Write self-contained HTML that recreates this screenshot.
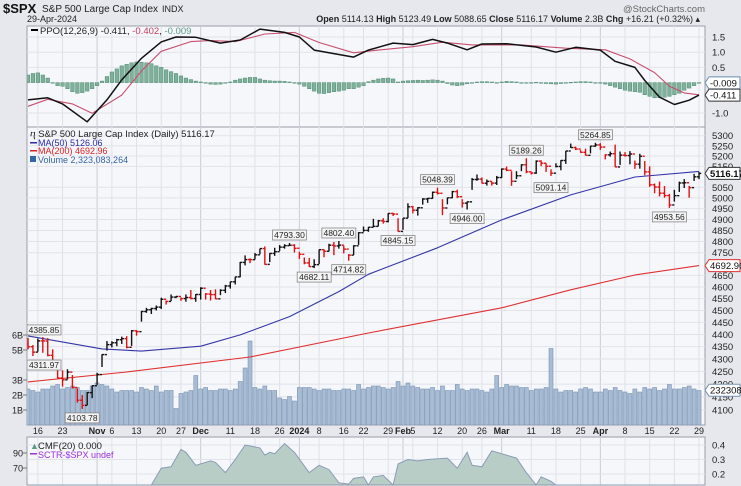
<!DOCTYPE html>
<html><head><meta charset="utf-8"><style>
html,body{margin:0;padding:0;background:#e6e8ed;overflow:hidden;width:741px;height:486px;}
svg{display:block;font-family:"Liberation Sans",sans-serif;overflow:hidden;}
</style></head><body>
<svg id="c" width="741" height="486" viewBox="0 0 741 486" xmlns="http://www.w3.org/2000/svg">
<rect x="0" y="0" width="741" height="486" fill="#e6e8ed"/>
<text x="3" y="13" font-size="13" font-weight="bold" fill="#111">$SPX</text>
<text x="42" y="12" font-size="10" fill="#222">S&amp;P 500 Large Cap Index</text>
<text x="162" y="12" font-size="9" fill="#222">INDX</text>
<text x="705" y="12" font-size="9.5" fill="#666" text-anchor="end">@StockCharts.com</text>
<text x="27" y="22" font-size="9" fill="#222">29-Apr-2024</text>
<text x="700" y="22" font-size="9" fill="#222" text-anchor="end"><tspan font-weight="bold">Open</tspan> 5114.13 <tspan font-weight="bold">High</tspan> 5123.49 <tspan font-weight="bold">Low</tspan> 5088.65 <tspan font-weight="bold">Close</tspan> 5116.17 <tspan font-weight="bold">Volume</tspan> 2.3B <tspan font-weight="bold">Chg</tspan> +16.21 (+0.32%) ▴</text>
<defs>
<clipPath id="cpPPO"><rect x="27" y="26" width="678" height="101"/></clipPath>
<clipPath id="cpMain"><rect x="27" y="127" width="678" height="298"/></clipPath>
<clipPath id="cpCMF"><rect x="27" y="437" width="678" height="48"/></clipPath>
</defs>
<rect x="27" y="26" width="678" height="101" fill="#f6f7fb" stroke="#9a9ea8"/>
<rect x="27" y="127" width="678" height="298" fill="#f6f7fb" stroke="#9a9ea8"/>
<rect x="27" y="437" width="678" height="48" fill="#f6f7fb" stroke="#9a9ea8"/>
<g id="grid"></g>
<g id="ppo" clip-path="url(#cpPPO)"></g>
<g id="vol" clip-path="url(#cpMain)"></g>
<g id="main" clip-path="url(#cpMain)"></g>
<g id="cmf" clip-path="url(#cpCMF)"></g>
<g id="axes"></g>
<g id="legends">
<rect x="31" y="29" width="7" height="2" fill="#000"/>
<text x="40" y="34" font-size="9.5" fill="#222">PPO(12,26,9) -0.411, <tspan fill="#c0405f">-0.402</tspan>, <tspan fill="#5a9a80">-0.009</tspan></text>
<text x="30" y="137" font-size="9.5" fill="#222">ⴄ S&amp;P 500 Large Cap Index (Daily) 5116.17</text>
<rect x="30" y="142" width="7" height="1.5" fill="#2b2ba8"/>
<text x="38" y="146" font-size="9" fill="#2b2ba8">MA(50) 5126.06</text>
<rect x="30" y="150" width="7" height="1.5" fill="#e02020"/>
<text x="38" y="154" font-size="9" fill="#e02020">MA(200) 4692.96</text>
<rect x="30" y="156" width="6" height="6" fill="#3465a4"/>
<text x="38" y="163" font-size="9" fill="#3465a4">Volume 2,323,083,264</text>
<text x="38" y="449" font-size="9.5" fill="#222">CMF(20) 0.000</text>
<text x="30" y="449" font-size="9" fill="#5a9a80">▲</text>
<rect x="30" y="453" width="7" height="1.5" fill="#9b30e0"/>
<text x="38" y="458" font-size="9" fill="#9b30e0">SCTR-$SPX undef</text>
</g>
</svg>
<script>
const closes=[4349.6,4327.8,4373.6,4373.2,4314.6,4278.0,4224.2,4217.0,4247.7,4186.8,4137.2,4117.4,4166.8,4193.8,
4237.9,4317.8,4358.3,4365.9,4378.4,4382.8,4347.4,4415.2,4411.6,4495.7,4502.9,4508.2,4514.0,4547.4,4538.2,4556.6,4559.3,4550.4,4554.9,4550.6,4567.8,
4594.6,4569.8,4567.2,4549.3,4585.6,4604.4,4622.4,4643.7,4707.1,4719.6,4719.2,4740.6,4768.4,4698.4,4746.8,4754.6,4774.8,4781.6,4783.4,4769.8,
4742.8,4704.8,4688.7,4697.2,4763.5,4756.5,4783.5,4780.2,4783.8,4766.0,4739.2,4780.9,4839.8,4850.4,4864.6,4868.6,4894.2,4890.9,4927.9,4924.9,4845.7,
4906.2,4958.6,4942.8,4954.2,4995.1,4997.9,5026.6,5021.8,4953.2,5000.6,5029.7,5005.6,4975.5,4981.8,5087.0,5088.8,5069.5,5078.2,5069.8,5096.3,
5137.1,5130.9,5078.7,5104.8,5157.4,5123.7,5117.9,5175.3,5165.3,5150.5,5117.1,5149.4,5178.5,5224.6,5241.5,5234.2,5218.2,5203.6,5248.5,5254.4,
5243.8,5205.8,5211.5,5147.2,5204.3,5202.4,5209.9,5160.6,5199.1,5123.4,5061.8,5051.4,5022.2,5011.1,4967.2,5010.6,5070.6,5071.6,5048.4,5099.96,5116.17];
const highs=[4385.85,4357,4383,4389,4385,4339,4276,4255,4259,4236,4183,4157,4169,4195,
4245,4319,4373,4372,4382,4391,4393,4418,4418,4498,4511,4511,4521,4554,4542,4568,4560,4555,4568,4587,4570,
4599,4574,4587,4590,4590,4609,4623,4644,4709,4738,4725,4749,4768,4778,4748,4772,4784,4788,4793.3,4788,
4754,4729,4727,4721,4764,4765,4790,4798,4802.4,4782,4744,4783,4842,4868,4866,4903,4898,4906,4929,4931,4906,
4906,4975,4963,4957,4999,5000,5030,5048.39,4994,5002,5033,5039,4994,4983,5094,5111,5097,5087,5077,5104,
5140,5149,5127,5127,5160,5189.26,5124,5179,5179,5165,5136,5165,5180,5225,5261,5246,5229,5236,5250,5264.85,
5263,5209,5222,5256,5222,5219,5224,5178,5211,5176,5150,5068,5077,5056,5019,5038,5077,5089,5057,5114,5123.49];
const lows=[4339,4311.97,4330,4325,4311,4276,4223,4190,4219,4183,4128,4103.78,4118,4145,
4197,4268,4334,4347,4352,4361,4343,4353,4395,4453,4490,4485,4500,4506,4525,4540,4552,4541,4537,4547,4537,
4546,4546,4542,4547,4565,4574,4593,4611,4642,4694,4704,4720,4743,4697,4708,4736,4758,4768,4780,4751,
4722,4699,4687,4682.11,4700,4730,4756,4739,4768,4747,4714.82,4740,4785,4844,4844,4865,4869,4881,4887,4916,4845.15,
4853,4907,4928,4918,4969,4977,4996,5016,4920,4970,4999,4999,4955,4946.00,5038,5081,5068,5058,5058,5061,
5094,5127,5057,5089,5127,5117,5111,5114,5151,5123,5104,5145,5131,5162,5240,5229,5216,5203,5213,5245,
5230,5184,5197,5146,5157,5197,5160,5138,5139,5107,5052,5022,5007,5001,4953.56,4983,5028,5047,5001,5080,5088.65];
const volumes=[2.4,2.3,2.2,2.4,2.4,2.6,2.7,2.4,2.5,2.6,2.5,2.3,2.3,2.6,
2.8,2.7,2.6,2.4,2.2,2.3,2.3,2.3,2.2,2.5,2.4,2.3,2.6,2.2,2.3,2.3,1.1,2.1,2.2,2.3,3.3,
2.4,2.5,2.3,2.3,2.4,2.4,2.3,2.4,2.9,3.8,5.6,2.5,2.4,2.6,2.3,2.3,1.8,1.7,1.9,1.6,
2.5,2.5,2.5,2.4,2.3,2.4,2.4,2.3,2.3,2.4,2.4,2.3,2.7,2.4,2.5,2.6,2.6,2.5,2.4,2.5,2.9,
2.6,2.8,2.6,2.5,2.4,2.4,2.5,2.3,2.6,2.3,2.3,2.7,2.4,2.3,2.4,2.4,2.3,2.2,2.4,3.3,
2.5,2.7,2.6,2.6,2.5,2.5,2.3,2.4,2.4,2.5,5.1,2.4,2.2,2.3,2.3,2.2,2.4,2.5,2.4,2.2,
2.2,2.4,2.3,2.5,2.3,2.2,2.1,2.4,2.2,2.5,2.4,2.5,2.3,2.4,2.7,2.4,2.4,2.5,2.6,2.4,2.3];
const histVals=[0.25,0.3,0.32,0.25,0.15,
-0.02,-0.1,-0.12,-0.2,-0.3,-0.35,-0.33,-0.28,-0.2,
-0.1,0.05,0.2,0.35,
0.45,0.55,0.6,0.65,0.68,0.67,0.65,0.62,
0.55,0.5,0.42,0.36,0.3,0.22,0.15,0.1,0.05,0.02,-0.02,-0.05,
-0.06,-0.05,-0.02,0.02,0.08,
0.12,0.15,0.17,0.17,0.12,0.08,
0.06,0.05,0.05,0.04,0.02,0.0,
-0.05,-0.12,-0.2,-0.28,-0.35,-0.36,-0.33,-0.3,-0.28,-0.25,-0.2,-0.2,-0.15,-0.1,
0.03,0.08,0.12,0.14,0.15,0.12,0.02,
0.05,0.06,0.07,0.08,0.07,0.08,0.09,0.08,0.05,
-0.03,-0.08,-0.1,-0.08,-0.04,-0.02,
0.02,0.03,0.03,0.02,0.0,0.02,0.04,0.03,0.02,-0.02,-0.01,0.0,0.01,-0.02,-0.03,-0.04,-0.05,-0.03,-0.02,0.01,0.02,0.03,0.03,0.02,0.0,-0.02,-0.05,
-0.1,-0.15,-0.2,-0.25,-0.28,-0.3,-0.32,-0.4,-0.45,-0.5,-0.5,-0.48,-0.45,-0.4,-0.35,-0.25,-0.18,-0.1,-0.01];
const ppoIdx=[0,4,7,12,16,19,23,27,30,34,39,43,47,52,55,58,61,66,69,74,78,82,85,89,92,97,103,107,111,116,119,123,125,128,131,134,136];
const ppoVals=[-0.57,-0.5,-0.7,-1.29,-0.57,0.09,0.8,1.34,1.5,1.49,1.3,1.4,1.76,1.65,1.5,1.07,0.98,0.84,1.07,1.3,1.25,1.42,1.3,1.08,1.27,1.28,1.17,1.0,1.16,1.07,0.7,0.5,0.07,-0.48,-0.72,-0.58,-0.41];
const sigIdx=[0,4,9,13,19,23,27,33,37,42,48,54,59,66,71,78,84,90,100,109,117,122,127,130,133,136];
const sigVals=[-0.78,-0.55,-0.7,-1.01,-0.41,0.38,1.03,1.35,1.38,1.35,1.6,1.65,1.32,0.98,1.07,1.18,1.33,1.24,1.24,1.13,1.08,0.78,0.33,-0.12,-0.34,-0.40];
const ma50Idx=[0,15,23,35,43,53,63,69,83,96,110,123,136];
const ma50Vals=[4394,4341,4332,4352,4398,4474,4580,4655,4772,4898,5014,5099,5126];
const ma200Idx=[0,20,45,69,96,110,123,136];
const ma200Vals=[4209,4248,4308,4406,4511,4588,4652,4693];
const cmfIdx=[0,20,25,27,29,31,32,34,37,38,40,42,44,47,48,49,50,52,54,57,59,61,63,65,66,68,69,70,72,74,75,77,79,81,85,87,89,90,92,94,99,101,103,104,106,107,108,115,136];
const cmfVals=[0.0,0.0,0.12,0.24,0.25,0.37,0.35,0.26,0.29,0.28,0.21,0.3,0.4,0.38,0.33,0.35,0.34,0.41,0.35,0.21,0.26,0.23,0.14,0.13,0.17,0.18,0.12,0.18,0.19,0.12,0.27,0.3,0.29,0.3,0.31,0.24,0.35,0.26,0.25,0.36,0.31,0.21,0.12,0.18,0.15,0.1,0.05,-0.05,-0.1];
const priceTicks=[5300,5250,5200,5150,5050,5000,4950,4900,4850,4800,4750,4650,4600,4550,4500,4450,4400,4350,4300,4250,4200,4150,4100];
const ppoTicks=[1.5,1.0,0.5,-1.0];
const volTicks=[1,2,3,5,6];
const cmfTicks=[0.4,0.3,0.2];
const sctrTicks=[90,70];
const dateIdx=[2,7,14,17,22,27,31,35,41,46,51,55,59,64,68,73,76,78,83,88,92,96,102,107,112,116,121,126,131,136];
const dateLabels=['16','23','Nov','6','13','20','27','Dec','11','18','26','2024','8','16','22','29','Feb','5','12','20','26','Mar','11','18','25','Apr','8','15','22','29'];
const dateBold=[0,0,1,0,0,0,0,1,0,0,0,1,0,0,0,0,1,0,0,0,0,1,0,0,0,1,0,0,0,0];
const calloutIdx=[0,1,11,53,58,63,65,75,83,89,101,106,115,130];
const calloutVals=[4385.85,4311.97,4103.78,4793.30,4682.11,4802.40,4714.82,4845.15,5048.39,4946.00,5189.26,5091.14,5264.85,4953.56];
const calloutUp=[1,0,0,1,0,1,0,0,1,0,1,0,1,0];

const NS='http://www.w3.org/2000/svg';
function mk(parent,tag,attrs){const e=document.createElementNS(NS,tag);for(const k in attrs)e.setAttribute(k,attrs[k]);parent.appendChild(e);return e;}
const X=i=>28+4.934*i;
const LN=Math.log(5300);
const yP=p=>135.7+1068*(LN-Math.log(p));
const yPPO=v=>82.6-30.4*v;
const yVol=b=>425-15*b;
const yCMF=v=>445+(0.4-v)*145;
const G=id=>document.getElementById(id);
const grid=G('grid'),ppo=G('ppo'),vol=G('vol'),main=G('main'),cmf=G('cmf'),axes=G('axes');

dateIdx.forEach((di,k)=>{
  [[26,127],[127,425],[437,485]].forEach(r=>{
    const l=mk(grid,'line',{x1:X(di),x2:X(di),y1:r[0],y2:r[1],stroke:dateBold[k]?'#c9ccd6':'#dfe1e8','stroke-width':1});
    
    
  });
  const t=mk(axes,'text',{x:X(di),y:434,'font-size':9,'text-anchor':'middle',fill:'#222','font-weight':dateBold[k]?'bold':'normal'});
  t.textContent=dateLabels[k];
  
  
});
priceTicks.forEach(p=>{
  const l=mk(grid,'line',{x1:27,x2:705,y1:yP(p),y2:yP(p),stroke:'#e1e3ea'});
  
  
  const t=mk(axes,'text',{x:712,y:yP(p)+3.5,'font-size':9.5,fill:'#222'});
  t.textContent=p;
  
  
});
ppoTicks.forEach(v=>{
  const l=mk(grid,'line',{x1:27,x2:705,y1:yPPO(v),y2:yPPO(v),stroke:'#e1e3ea'});
  
  
  const t=mk(axes,'text',{x:712,y:yPPO(v)+3.5,'font-size':9.5,fill:'#222'});
  t.textContent=v.toFixed(1);
  
  
});
volTicks.forEach(b=>{
  const t=mk(axes,'text',{x:23,y:yVol(b)+3.5,'font-size':9,fill:'#222','text-anchor':'end'});
  t.textContent=b+'B';
  
  
  mk(axes,'line',{x1:23,x2:27,y1:yVol(b),y2:yVol(b),stroke:'#777'});
});
cmfTicks.forEach(v=>{
  const l=mk(grid,'line',{x1:27,x2:705,y1:yCMF(v),y2:yCMF(v),stroke:'#e1e3ea'});
  
  
  const t=mk(axes,'text',{x:712,y:yCMF(v)+3.5,'font-size':9.5,fill:'#222'});
  t.textContent=v.toFixed(1);
  
  
});
sctrTicks.forEach((v,k)=>{
  const yy=453+k*15;
  const t=mk(axes,'text',{x:23,y:yy+3.5,'font-size':9,fill:'#222','text-anchor':'end'});
  t.textContent=v;
  
  
  mk(axes,'line',{x1:23,x2:27,y1:yy,y2:yy,stroke:'#777'});
});

histVals.forEach((v,i)=>{
  const y0=yPPO(0),y1=yPPO(v);
  const r=mk(ppo,'rect',{x:X(i)-1.8,y:Math.min(y0,y1),width:3.6,height:Math.max(0.6,Math.abs(y1-y0)),fill:'#7fb09a',stroke:'#4f8a72','stroke-width':0.5});
  
  
});
function line(parent,idx,vals,yf,color,w,name){
  const d=idx.map((ii,k)=>(k?'L':'M')+X(ii).toFixed(1)+' '+yf(vals[k]).toFixed(1)).join(' ');
  const p=mk(parent,'path',{d:d,fill:'none',stroke:color,'stroke-width':w,'stroke-linejoin':'round'});
  
  
  return p;
}
line(ppo,sigIdx,sigVals,yPPO,'#c8506e',1.1,'ppo-signal-line');
line(ppo,ppoIdx,ppoVals,yPPO,'#111',1.5,'ppo-line');

volumes.forEach((b,i)=>{
  const r=mk(vol,'rect',{x:X(i)-2,y:yVol(b),width:4,height:425-yVol(b),fill:'#a8bcd4',stroke:'#7a93b4','stroke-width':0.6});
  
  
});
line(main,ma200Idx,ma200Vals,yP,'#e03030',1.1,'ma200-line');
line(main,ma50Idx,ma50Vals,yP,'#3535a8',1.1,'ma50-line');
closes.forEach((c,i)=>{
  const prev=i?closes[i-1]:4360;
  const o=prev;
  const col=c>=prev?'#111':'#e01010';
  const g=mk(main,'g',{stroke:col,'stroke-width':1.4});
  
  
  const x=X(i);
  mk(g,'line',{x1:x,x2:x,y1:yP(highs[i]),y2:yP(lows[i])});
  mk(g,'line',{x1:x-2.2,x2:x,y1:yP(o),y2:yP(o)});
  mk(g,'line',{x1:x,x2:x+2.2,y1:yP(c),y2:yP(c)});
});
calloutIdx.forEach((ii,k)=>{
  const v=calloutVals[k],up=calloutUp[k];
  const x=Math.max(44,X(ii)),yb=up?yP(v)-13:yP(v)+4;
  const r=mk(main,'rect',{x:x-17,y:yb,width:34,height:10,fill:'#f4f4f4',stroke:'#888','stroke-width':0.8});
  
  
  const t=mk(main,'text',{x:x,y:yb+8,'font-size':8.5,'text-anchor':'middle',fill:'#222'});
  t.textContent=v.toFixed(2);
  
  
});
{
  const bottom=485;
  let d='M'+X(cmfIdx[0])+' '+bottom+' ';
  cmfIdx.forEach((ii,k)=>{d+='L'+X(ii).toFixed(1)+' '+Math.min(bottom,yCMF(cmfVals[k])).toFixed(1)+' ';});
  d+='L'+X(cmfIdx[cmfIdx.length-1])+' '+bottom+' Z';
  const p=mk(cmf,'path',{d:d,fill:'#b7cdc6',stroke:'#8a9cb6','stroke-width':1});
  
  
}
function tag(y,txt,stroke,name,bold){
  const g=mk(axes,'g',{});
  
  
  mk(g,'path',{d:`M705 ${y} L709 ${y-6} L740 ${y-6} L740 ${y+6} L709 ${y+6} Z`,fill:'#fff',stroke:stroke,'stroke-width':1});
  const t=mk(g,'text',{x:710,y:y+3.5,'font-size':9.5,fill:'#111','font-weight':bold?'bold':'normal'});
  t.textContent=txt;
}
tag(yPPO(-0.009),'-0.009','#6a8fb0','ppo-hist-value-tag',0);
tag(yPPO(-0.411),'-0.411','#333','ppo-value-tag',0);
tag(yP(5116.17),'5116.17','#333','close-value-tag',1);
tag(yP(4692.96),'4692.96','#e03030','ma200-value-tag',0);
tag(yVol(2.32),'2323083','#7a93b4','volume-value-tag',0);
</script>
</body></html>
